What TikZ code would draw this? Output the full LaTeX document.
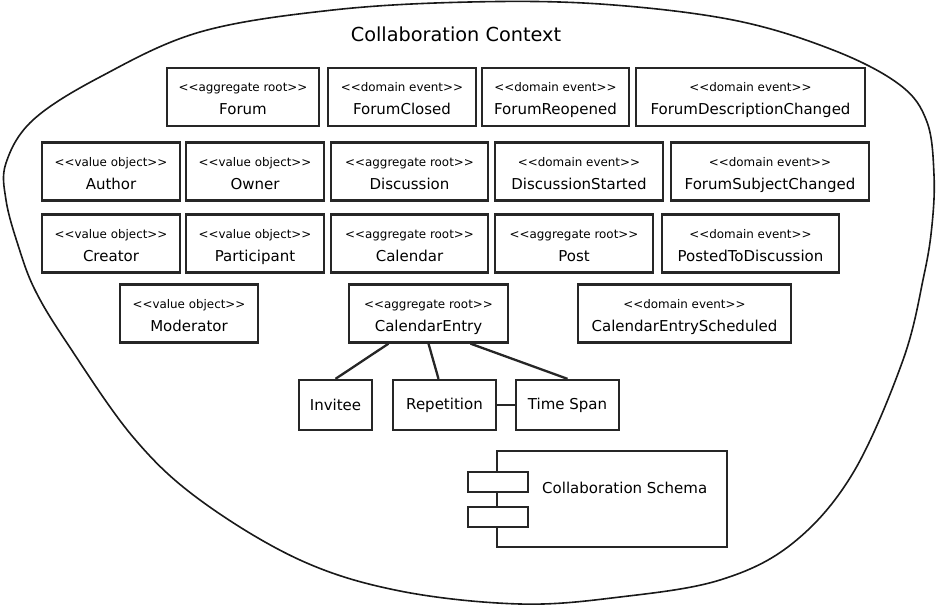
\documentclass[tikz,border=0pt]{standalone}
\usepackage{fontspec}
\setmainfont{DejaVu Sans}[Ligatures=TeXOff]
\usetikzlibrary{calc}
\tikzset{
  ubox/.style={draw=black!85, line width=2.3pt, rectangle, inner sep=0pt, fill=white},
  sttext/.style={font=\fontsize{11.9}{14}\selectfont, anchor=base, inner sep=0pt},
  nmtext/.style={font=\fontsize{15}{17}\selectfont, anchor=base, inner sep=0pt},
  plaintext/.style={font=\fontsize{15}{17}\selectfont, inner sep=0pt},
  conn/.style={line width=2.3pt, draw=black!85},
  outline/.style={line width=1.6pt, draw=black!90},
}
% name, cx, cy, width, stereotype, label
\newcommand\umlbox[6]{%
  \node[ubox, minimum width=#4pt, minimum height=58pt] (#1) at (#2,#3) {};
  \node[sttext] (#1-st) at ($(#1.center)+(0,-5)$) {#5};
  \node[nmtext] (#1-nm) at ($(#1.center)+(0,18)$) {#6};
}
\newcommand\lt{<\kern0pt<}
\newcommand\gt{>\kern0pt>}
\begin{document}
\begin{tikzpicture}[x=1pt,y=-1pt]
\useasboundingbox (0,0) rectangle (940,607);

% context outline
\draw[outline] plot[smooth cycle, tension=0.6] coordinates {
  (470,2) (600,4) (733,20) (833,50) (900,85) (927,122) (934,175) (932,225)
  (924,275) (903,360) (853,473) (793,543) (720,580) (620,597) (520,604)
  (400,591) (300,560) (200,500) (133,437) (67,343) (35,290) (18,245)
  (6,200) (6,163) (33,120) (100,77) (200,32) (333,10)};

\node[font=\fontsize{19.3}{22}\selectfont, anchor=base, inner sep=0pt] (title) at (456,42) {Collaboration Context};

% row 1
\umlbox{forum}{243}{97}{152}{\lt aggregate root\gt}{Forum}
\umlbox{fclosed}{402}{97}{148}{\lt domain event\gt}{ForumClosed}
\umlbox{freopened}{555.5}{97}{147}{\lt domain event\gt}{ForumReopened}
\umlbox{fdesc}{750.5}{97}{229}{\lt domain event\gt}{ForumDescriptionChanged}

% row 2
\umlbox{author}{111}{171.5}{138}{\lt value object\gt}{Author}
\umlbox{owner}{255}{171.5}{138}{\lt value object\gt}{Owner}
\umlbox{discussion}{409.5}{171.5}{157}{\lt aggregate root\gt}{Discussion}
\umlbox{dstarted}{579}{171.5}{168}{\lt domain event\gt}{DiscussionStarted}
\umlbox{fsubj}{770}{171.5}{198}{\lt domain event\gt}{ForumSubjectChanged}

% row 3
\umlbox{creator}{111}{243.5}{138}{\lt value object\gt}{Creator}
\umlbox{participant}{255}{243.5}{138}{\lt value object\gt}{Participant}
\umlbox{calendar}{409.5}{243.5}{157}{\lt aggregate root\gt}{Calendar}
\umlbox{post}{574}{243.5}{158}{\lt aggregate root\gt}{Post}
\umlbox{posted}{750.5}{243.5}{177}{\lt domain event\gt}{PostedToDiscussion}

% row 4
\umlbox{moderator}{189}{313.5}{138}{\lt value object\gt}{Moderator}
\umlbox{centry}{428.5}{313.5}{159}{\lt aggregate root\gt}{CalendarEntry}
\umlbox{cesched}{684.5}{313.5}{213}{\lt domain event\gt}{CalendarEntryScheduled}

% row 5
\node[ubox, plaintext, minimum width=73pt, minimum height=50pt] (invitee) at (335.5,405) {Invitee};
\node[ubox, plaintext, minimum width=103pt, minimum height=50pt] (repetition) at (444.5,405) {Repetition};
\node[ubox, plaintext, minimum width=103pt, minimum height=50pt] (timespan) at (567.5,405) {Time Span};

\draw[conn] ($(centry.south)+(-40,0)$) -- (invitee.north);
\draw[conn] (centry.south) -- ($(repetition.north)+(-6,0)$);
\draw[conn] ($(centry.south)+(42,0)$) -- (timespan.north);
\draw[conn] (repetition.east) -- (timespan.west);

% component
\node[ubox, minimum width=230pt, minimum height=96pt] (comp) at (612,499) {};
\node[ubox, minimum width=60pt, minimum height=20pt] (port1) at (498,482) {};
\node[ubox, minimum width=60pt, minimum height=20pt] (port2) at (498,517) {};
\node[plaintext, anchor=base west] (compname) at (542,493) {Collaboration Schema};
\end{tikzpicture}
\end{document}
